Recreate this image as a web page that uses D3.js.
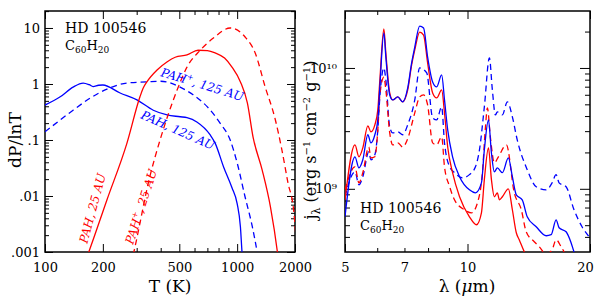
<!DOCTYPE html>
<meta charset="utf-8">
<style>
  body { margin: 0; background: #fff; }
  text { font-family: "DejaVu Serif", serif; }
</style>
<div id="chart"></div>
<script src="https://cdn.jsdelivr.net/npm/d3@7"></script>
<script>

// ---- left panel data: dP/dlnT vs T (K) ----
var tPah125 = [100, 120, 140, 158, 170, 178, 190, 200, 246, 301, 366, 432, 505, 548, 617, 724, 768, 850, 940, 1000, 1040, 1060, 1080]
var pPah125 = [0.42, 0.59, 0.88, 1.04, 0.97, 0.90, 0.95, 0.96, 0.69, 0.52, 0.34, 0.28, 0.26, 0.25, 0.21, 0.123, 0.088, 0.033, 0.014, 0.0073, 0.0028, 0.001, 0.0005]

var tIon125 = [100, 120, 140, 172, 210, 267, 339, 400, 505, 590, 700, 815, 920, 1000, 1100, 1200, 1270, 1300]
var pIon125 = [0.14, 0.228, 0.34, 0.56, 0.81, 1.04, 1.09, 1.12, 0.88, 0.64, 0.39, 0.2, 0.1, 0.039, 0.0096, 0.0028, 0.001, 0.0006]

var tPah25 = [160, 169, 210, 267, 312, 324, 339, 383, 431, 476, 548, 626, 700, 768, 860, 940, 1040, 1130, 1210, 1350, 1490, 1620, 1660]
var pPah25 = [0.0006, 0.001, 0.0085, 0.088, 0.59, 0.84, 1.09, 1.78, 2.47, 3.0, 3.3, 4.0, 3.95, 3.6, 2.9, 2.0, 1.09, 0.46, 0.113, 0.029, 0.0064, 0.001, 0.0005]

var tIon25 = [280, 290, 351, 397, 487, 548, 642, 752, 920, 1100, 1240, 1400, 1580, 1710, 1840, 1970, 2050]
var pIon25 = [0.0006, 0.001, 0.022, 0.1, 0.78, 2.0, 4.0, 6.6, 10, 6.9, 3.6, 0.88, 0.23, 0.066, 0.017, 0.0054, 0.001]

// ---- right panel data: j_lambda vs wavelength (um) ----
var wPah25 = [5.00, 5.29, 5.41, 5.53, 5.69, 5.79, 5.92, 6.02, 6.09, 6.23, 6.30, 6.44, 6.55, 6.74, 6.93, 7.13, 7.29, 7.42, 7.63, 7.80, 7.98, 8.21, 8.40, 8.64, 8.78, 8.94, 9.19, 9.56, 10.11, 10.52, 10.82, 11.00, 11.26, 11.45, 11.64, 11.84, 11.98, 12.18, 12.60, 12.89, 13.18, 13.40, 13.79, 14.1]
var jPah25 = [8.1e8, 2.31e9, 1.84e9, 2.18e9, 3.32e9, 2.96e9, 3.38e9, 4.5e9, 7.96e9, 2.1e10, 1.33e10, 6.21e9, 5.44e9, 5.76e9, 5.24e9, 6.58e9, 1.06e10, 1.41e10, 1.98e10, 1.87e10, 1.1e10, 6.21e9, 5.65e9, 6.58e9, 4.25e9, 2.22e9, 1.36e9, 8.59e8, 5.87e8, 5.04e8, 6.33e8, 1.19e9, 2.18e9, 1.19e9, 8.59e8, 9.27e8, 8.11e8, 8.59e8, 1.0e9, 6.71e8, 4.33e8, 3.79e8, 3.01e8, 2.6e8]

var wPah125 = [5.00, 5.29, 5.41, 5.53, 5.69, 5.79, 5.92, 6.02, 6.09, 6.23, 6.30, 6.44, 6.55, 6.74, 6.93, 7.13, 7.29, 7.42, 7.63, 7.80, 7.98, 8.21, 8.40, 8.64, 8.78, 8.94, 9.19, 9.56, 10.11, 10.46, 10.82, 11.00, 11.26, 11.45, 11.64, 11.84, 12.18, 12.60, 12.89, 13.18, 13.63, 14.02, 14.75, 15.61, 16.05, 16.51, 16.79, 17.47, 17.97, 18.27, 18.8]
var jPah125 = [5.87e8, 1.84e9, 1.49e9, 1.74e9, 2.8e9, 2.4e9, 2.8e9, 3.72e9, 6.97e9, 1.95e10, 1.23e10, 5.98e9, 5.44e9, 5.76e9, 5.24e9, 6.83e9, 1.1e10, 1.49e10, 2.22e10, 2.14e10, 1.23e10, 7.66e9, 6.97e9, 8.75e9, 5.44e9, 3.07e9, 1.84e9, 1.26e9, 9.8e8, 9.27e8, 1.12e9, 2.1e9, 3.72e9, 1.98e9, 1.38e9, 1.49e9, 1.36e9, 1.8e9, 1.26e9, 8.92e8, 8.11e8, 5.87e8, 4.85e8, 4.09e8, 4.17e8, 5.54e8, 4.76e8, 4.41e8, 3.58e8, 3.01e8, 2.6e8]

var wIon25 = [5.00, 5.29, 5.41, 5.53, 5.72, 5.79, 5.92, 6.02, 6.09, 6.23, 6.30, 6.44, 6.55, 6.74, 6.93, 7.13, 7.42, 7.63, 7.80, 7.98, 8.21, 8.40, 8.64, 8.78, 9.04, 9.29, 9.83, 10.23, 10.58, 10.88, 11.07, 11.19, 11.38, 11.64, 11.91, 12.46, 13.03, 13.56, 13.94, 14.59, 15.00, 15.61, 16.14, 16.51, 16.98, 17.47]
var jIon25 = [9.8e8, 1.52e9, 1.12e9, 1.36e9, 2.22e9, 1.8e9, 1.84e9, 3.07e9, 5.98e9, 8.4e9, 6.58e9, 2.9e9, 2.31e9, 2.4e9, 2.22e9, 2.6e9, 4.25e9, 5.76e9, 5.98e9, 4.94e9, 2.4e9, 2.31e9, 2.69e9, 1.52e9, 1.04e9, 8.11e8, 6.71e8, 6.33e8, 7.66e8, 1.36e9, 3.25e9, 4.67e9, 2.69e9, 1.64e9, 1.84e9, 2.31e9, 9.27e8, 6.71e8, 4.41e8, 3.65e8, 3.32e8, 2.9e8, 3.13e8, 3.79e8, 3.32e8, 2.8e8]

var wIon125 = [5.00, 5.29, 5.41, 5.53, 5.72, 5.79, 5.92, 6.02, 6.09, 6.23, 6.30, 6.44, 6.55, 6.74, 6.93, 7.13, 7.42, 7.63, 7.94, 8.21, 8.40, 8.64, 8.78, 9.04, 9.29, 9.72, 10.11, 10.46, 10.70, 11.00, 11.32, 11.51, 11.71, 11.84, 12.18, 12.53, 12.89, 13.25, 14.02, 14.75, 15.61, 16.14, 16.51, 16.79, 17.47, 18.27, 19.12, 19.89, 20.0]
var jIon125 = [8.59e8, 1.38e9, 1.08e9, 1.26e9, 2.02e9, 1.74e9, 1.91e9, 3.07e9, 5.76e9, 1.0e10, 7.96e9, 3.25e9, 2.9e9, 2.96e9, 2.8e9, 3.38e9, 5.44e9, 1.0e10, 9.1e9, 3.86e9, 3.72e9, 4.76e9, 2.4e9, 1.52e9, 1.36e9, 1.23e9, 1.31e9, 1.52e9, 2.1e9, 4.76e9, 1.21e10, 6.58e9, 4.09e9, 4.33e9, 4.09e9, 5.24e9, 3.94e9, 2.54e9, 1.44e9, 1.04e9, 9.8e8, 1.12e9, 1.31e9, 1.12e9, 1.04e9, 6.71e8, 4.85e8, 4.01e8, 3.9e8]

// ticks
var tMajor = [100, 200, 500, 1000, 2000]
var tMinor = [300, 400, 600, 700, 800, 900]
var pMajor = [0.001, 0.01, 0.1, 1, 10]
var pLabels = {0.001: ".001", 0.01: ".01", 0.1: ".1", 1: "1", 10: "10"}
var wMajor = [5, 10, 20]
var wMinor = [6, 7, 8, 9]
var wLabels = [5, 7, 10, 20]
var jMajor = [1e9, 1e10]
var jLabels = {1e9: "10\u2079", 1e10: "10\u00b9\u2070"}

var RED = "#ff0000", BLUE = "#0000ff"

var svg = d3.select("#chart").append("svg")
  .attr("width", 600).attr("height", 304)
  .style("background-color", "#ffffff")

// minor ticks for log axes: 2..9 x 10^n inside domain
function logMinor(domain) {
  var out = []
  for (var e = -4; e <= 11; e++) {
    for (var m = 2; m <= 9; m++) {
      var v = m * Math.pow(10, e)
      if (v > domain[0] && v < domain[1]) out.push(v)
    }
  }
  return out
}

function panel(id, x, y, o) {
  var x0 = x.range()[0], x1 = x.range()[1], y0 = y.range()[1], y1 = y.range()[0]
  var g = svg.append("g")

  g.append("clipPath").attr("id", id)
    .append("rect").attr("x", x0).attr("y", y0).attr("width", x1 - x0).attr("height", y1 - y0)

  // tick marks on all four sides, pointing inward
  function ticks(axis, tr) {
    var a = g.append("g").attr("transform", tr).call(axis)
    a.select(".domain").remove()
    a.selectAll("line").attr("stroke", "#000").attr("stroke-width", 1)
    return a
  }
  var bt = "translate(0," + y1 + ")", tp = "translate(0," + y0 + ")"
  var lf = "translate(" + x0 + ",0)", rt = "translate(" + x1 + ",0)"
  ticks(d3.axisBottom(x).tickValues(o.xMajor).tickSize(-8).tickFormat(""), bt)
  ticks(d3.axisBottom(x).tickValues(o.xMinor).tickSize(-4).tickFormat(""), bt)
  ticks(d3.axisTop(x).tickValues(o.xMajor).tickSize(-8).tickFormat(""), tp)
  ticks(d3.axisTop(x).tickValues(o.xMinor).tickSize(-4).tickFormat(""), tp)
  ticks(d3.axisLeft(y).tickValues(o.yMajor).tickSize(-o.yMajorLen).tickFormat(""), lf)
  ticks(d3.axisLeft(y).tickValues(logMinor(y.domain())).tickSize(-o.yMinorLen).tickFormat(""), lf)
  ticks(d3.axisRight(y).tickValues(o.yMajor).tickSize(-o.yMajorLen).tickFormat(""), rt)
  ticks(d3.axisRight(y).tickValues(logMinor(y.domain())).tickSize(-o.yMinorLen).tickFormat(""), rt)

  // tick labels
  var xl = g.append("g").attr("transform", bt)
    .call(d3.axisBottom(x).tickValues(o.xLabels).tickSize(0).tickPadding(11).tickFormat(o.xFmt))
  xl.select(".domain").remove()
  xl.attr("font-family", "DejaVu Serif").attr("font-size", 13)
  var yl = g.append("g").attr("transform", lf)
    .call(d3.axisLeft(y).tickValues(o.yMajor).tickSize(0).tickPadding(o.yPad).tickFormat(o.yFmt))
  yl.select(".domain").remove()
  yl.attr("font-family", "DejaVu Serif").attr("font-size", 13)

  // frame
  g.append("rect").attr("x", x0).attr("y", y0).attr("width", x1 - x0).attr("height", y1 - y0)
    .attr("fill", "none").attr("stroke", "#000").attr("stroke-width", 1.5)

  var plot = g.append("g").attr("clip-path", "url(#" + id + ")")
  return {g: g, plot: plot, xl: xl, yl: yl}
}

function curve(plot, x, y, xs, ys, color, dashed) {
  var pts = xs.map(function (d, i) { return [d, ys[i]] })
  plot.append("path")
    .datum(pts)
    .attr("fill", "none")
    .attr("stroke", color)
    .attr("stroke-width", 1.3)
    .attr("stroke-dasharray", dashed ? "6,4" : null)
    .attr("d", d3.line()
      .x(function (d) { return x(d[0]) })
      .y(function (d) { return y(d[1]) })
      .curve(d3.curveMonotoneX))
}

// name block: "HD 100546" and C60H20
function nameBlock(g, px, py) {
  g.append("text").attr("x", px).attr("y", py).attr("font-size", 14).text("HD 100546")
  var t = g.append("text").attr("x", px).attr("y", py + 17).attr("font-size", 13)
  t.append("tspan").text("C")
  t.append("tspan").attr("font-size", 9).attr("dy", 3).text("60")
  t.append("tspan").attr("dy", -3).text("H")
  t.append("tspan").attr("font-size", 9).attr("dy", 3).text("20")
}

// ======== left panel ========
var xT = d3.scaleLog().domain([100, 2000]).range([45, 295])
var yP = d3.scaleLog().domain([0.001, 20.1]).range([252, 11])

var L = panel("clipL", xT, yP, {
  xMajor: tMajor, xMinor: tMinor, xLabels: tMajor, xFmt: function (d) { return d },
  yMajor: pMajor, yMajorLen: 8, yMinorLen: 4, yPad: 5, yFmt: function (d) { return pLabels[d] }
})

curve(L.plot, xT, yP, tPah125, pPah125, BLUE, false)
curve(L.plot, xT, yP, tIon125, pIon125, BLUE, true)
curve(L.plot, xT, yP, tPah25, pPah25, RED, false)
curve(L.plot, xT, yP, tIon25, pIon25, RED, true)

nameBlock(L.g, 65, 33)

// curve labels
function curveLabel(g, px, py, angle, color, ion, dist) {
  var t = g.append("text")
    .attr("transform", "translate(" + px + "," + py + ") rotate(" + angle + ")")
    .attr("font-family", "Liberation Sans").attr("font-style", "italic")
    .attr("font-size", 12).attr("fill", color)
  t.append("tspan").text("PAH")
  if (ion) {
    t.append("tspan").attr("font-size", 8).attr("dy", -5).text("+")
    t.append("tspan").attr("dy", 5).text(", " + dist)
  } else {
    t.append("tspan").text(", " + dist)
  }
}
curveLabel(L.g, xT(397), yP(1.39), 17, BLUE, true, "125 AU")
curveLabel(L.g, xT(312), yP(0.247), 24, BLUE, false, "125 AU")
curveLabel(L.g, xT(166), yP(0.00139), -75, RED, false, "25 AU")
curveLabel(L.g, xT(287), yP(0.00133), -72, RED, true, "25 AU")

// axis titles
svg.append("text").attr("x", 170).attr("y", 292).attr("text-anchor", "middle")
  .attr("font-size", 17).text("T (K)")
svg.append("text").attr("transform", "translate(21,140) rotate(-90)")
  .attr("text-anchor", "middle").attr("font-size", 17).text("dP/lnT")

// ======== right panel ========
var xW = d3.scaleLog().domain([5, 20]).range([345, 590])
var yJ = d3.scaleLog().domain([3.0e8, 2.96e10]).range([252, 11])

var R = panel("clipR", xW, yJ, {
  xMajor: wMajor, xMinor: wMinor, xLabels: wLabels, xFmt: function (d) { return d },
  yMajor: jMajor, yMajorLen: 10, yMinorLen: 5, yPad: 8, yFmt: function (d) { return jLabels[d] }
})
// last label sits a little inside the frame edge
R.xl.selectAll(".tick text").filter(function (d) { return d === 20 }).attr("dx", -5)

curve(R.plot, xW, yJ, wIon125, jIon125, BLUE, true)
curve(R.plot, xW, yJ, wIon25, jIon25, RED, true)
curve(R.plot, xW, yJ, wPah25, jPah25, RED, false)
curve(R.plot, xW, yJ, wPah125, jPah125, BLUE, false)

nameBlock(R.g, 360, 213)

svg.append("text").attr("x", 467).attr("y", 292).attr("text-anchor", "middle")
  .attr("font-size", 17)
  .call(function (t) {
    t.append("tspan").text("\u03bb (")
    t.append("tspan").attr("font-style", "italic").text("\u03bc")
    t.append("tspan").text("m)")
  })

var yt = svg.append("text").attr("transform", "translate(316,140) rotate(-90)")
  .attr("text-anchor", "middle").attr("font-size", 16)
yt.append("tspan").text("j")
yt.append("tspan").attr("font-size", 11).attr("dy", 4).text("\u03bb")
yt.append("tspan").attr("dy", -4).text(" (erg s")
yt.append("tspan").attr("font-size", 10).attr("dy", -6).text("\u22121")
yt.append("tspan").attr("dy", 6).text(" cm")
yt.append("tspan").attr("font-size", 10).attr("dy", -6).text("\u22122")
yt.append("tspan").attr("dy", 6).text(" g")
yt.append("tspan").attr("font-size", 10).attr("dy", -6).text("\u22121")
yt.append("tspan").attr("dy", 6).text(")")

</script>
